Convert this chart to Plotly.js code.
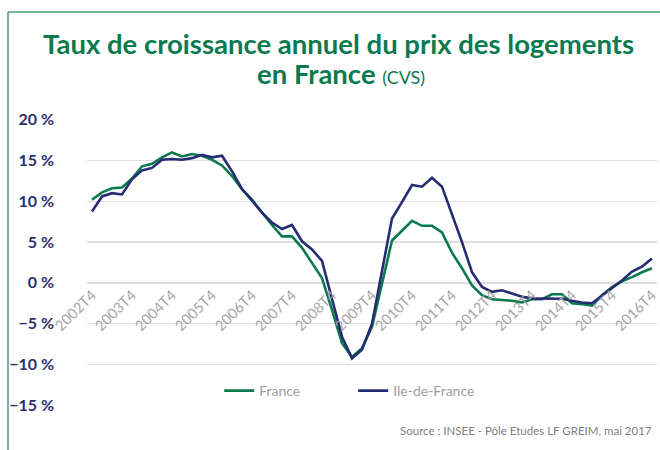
<!DOCTYPE html>
<html>
<head>
<meta charset="utf-8">
<script src="https://cdn.plot.ly/plotly-3.0.1.min.js"></script>
<style>html,body{margin:0;padding:0;background:#fff;}#chart{width:660px;height:450px;}</style>
</head>
<body>
<div id="chart"></div>
<script>
// Quarters 2002T4 .. 2016T4
var quarters = [];
for (var y = 2002; y <= 2016; y++) {
  var qs = (y === 2002) ? [4] : [1,2,3,4];
  qs.forEach(function(q){ quarters.push(y + 'T' + q); });
}
var tickLabels = ['2002T4','2003T4','2004T4','2005T4','2006T4','2007T4','2008T4','2009T4','2010T4','2011T4','2012T4','2013T4','2014T4','2015T4','2016T4'];

var france = [10.2, 11.1, 11.6, 11.7, 12.8, 14.3, 14.6, 15.4, 16.0, 15.5, 15.8, 15.6,
  15.1, 14.4, 13.1, 11.5, 10.2, 8.6, 7.1, 5.7, 5.7, 4.3, 2.4, 0.6,
  -3.3, -7.4, -9.1, -8.0, -5.4, 0.0, 5.2, 6.4, 7.6, 7.0, 7.0, 6.2,
  3.7, 1.8, -0.3, -1.5, -2.0, -2.1, -2.2, -2.4, -2.0, -2.0, -1.4, -1.4,
  -2.5, -2.6, -2.8, -1.5, -0.5, 0.2, 0.7, 1.3, 1.8];
var idf = [8.75, 10.6, 11.0, 10.85, 12.7, 13.8, 14.1, 15.1, 15.2, 15.1, 15.3, 15.7,
  15.4, 15.6, 13.7, 11.5, 10.1, 8.6, 7.4, 6.6, 7.1, 5.1, 4.1, 2.7,
  -2.0, -6.6, -9.25, -8.2, -5.0, 1.3, 7.9, 9.9, 12.0, 11.8, 12.9, 11.8,
  8.5, 5.0, 1.3, -0.5, -1.1, -0.9, -1.3, -1.7, -1.9, -1.9, -1.9, -1.95,
  -2.2, -2.4, -2.5, -1.6, -0.7, 0.3, 1.4, 2.0, 3.0];
var yTicks = [-15, -10, -5, 0, 5, 10, 15, 20];
var yTickText = ['\u221215 %', '\u221210 %', '\u22125 %', '0 %', '5 %', '10 %', '15 %', '20 %'];

var green = '#0b7a4e', navy = '#262c73';
var L = 87, R = 3, T = 119, B = 44, W = 660, H = 450;
var pw = W - L - R, ph = H - T - B;
function px2x(px){ return (px - L) / pw; }
function py2y(py){ return (H - B - py) / ph; }
var yr = [-15.1, 20.1];

var traces = [
  {x: quarters, y: france, name: 'France', type: 'scatter', mode: 'lines',
   line: {color: green, width: 2.6}},
  {x: quarters, y: idf, name: 'Ile-de-France', type: 'scatter', mode: 'lines',
   line: {color: navy, width: 2.6}}
];

var layout = {
  width: W, height: H,
  margin: {l: L, r: R, t: T, b: B},
  paper_bgcolor: '#fff', plot_bgcolor: '#fff',
  font: {family: 'Lato, sans-serif'},
  showlegend: true,
  legend: {
    orientation: 'h', x: 0.467, xanchor: 'center', y: py2y(391), yanchor: 'middle',
    font: {family: 'Lato, sans-serif', size: 14, color: '#9e9e9e'},
    bgcolor: 'rgba(0,0,0,0)', entrywidth: 89, entrywidthmode: 'pixels'
  },
  xaxis: {
    type: 'category', range: [-0.5, 56.5],
    tickmode: 'array', tickvals: tickLabels, ticktext: tickLabels,
    tickangle: -45, showgrid: false, zeroline: false, showline: false, ticks: '',
    anchor: 'free', position: (0 - yr[0]) / (yr[1] - yr[0]),
    tickfont: {family: 'Lato, sans-serif', size: 14.5, color: '#a6a6a6'},
    fixedrange: true
  },
  yaxis: {
    range: yr, tickmode: 'array', tickvals: yTicks, ticktext: yTickText,
    showgrid: true, gridcolor: '#dedede', gridwidth: 1.5, zeroline: false, showline: false,
    ticks: '', ticklabelstandoff: 32,
    tickfont: {family: 'Lato, sans-serif', size: 16, color: '#2b2f70', weight: 700},
    fixedrange: true
  },
  shapes: [
    {type: 'line', xref: 'paper', yref: 'paper', x0: px2x(8), x1: px2x(662), y0: py2y(12), y1: py2y(12),
     line: {color: '#4a9e76', width: 1.5}},
    {type: 'line', xref: 'paper', yref: 'paper', x0: px2x(8), x1: px2x(8), y0: py2y(12), y1: py2y(452),
     line: {color: '#4a9e76', width: 1.5}}
  ],
  annotations: [
    {text: 'Taux de croissance annuel du prix des logements', xref: 'paper', yref: 'paper',
     x: px2x(338), y: py2y(44), xanchor: 'center', yanchor: 'middle', showarrow: false,
     font: {family: 'Lato, sans-serif', size: 27.5, color: green, weight: 700}},
    {text: 'en France <span style="font-size:18px;font-weight:400">(CVS)</span>', xref: 'paper', yref: 'paper',
     x: px2x(341), y: py2y(74), xanchor: 'center', yanchor: 'middle', showarrow: false,
     font: {family: 'Lato, sans-serif', size: 27.5, color: green, weight: 700}},
    {text: 'Source : INSEE - Pôle Etudes LF GREIM, mai 2017', xref: 'paper', yref: 'paper',
     x: px2x(654), y: py2y(430), xanchor: 'right', yanchor: 'middle', showarrow: false,
     font: {family: 'Lato, sans-serif', size: 11.5, color: '#7f7f7f'}}
  ]
};

Plotly.newPlot('chart', traces, layout, {displayModeBar: false, staticPlot: true});
</script>
</body>
</html>
